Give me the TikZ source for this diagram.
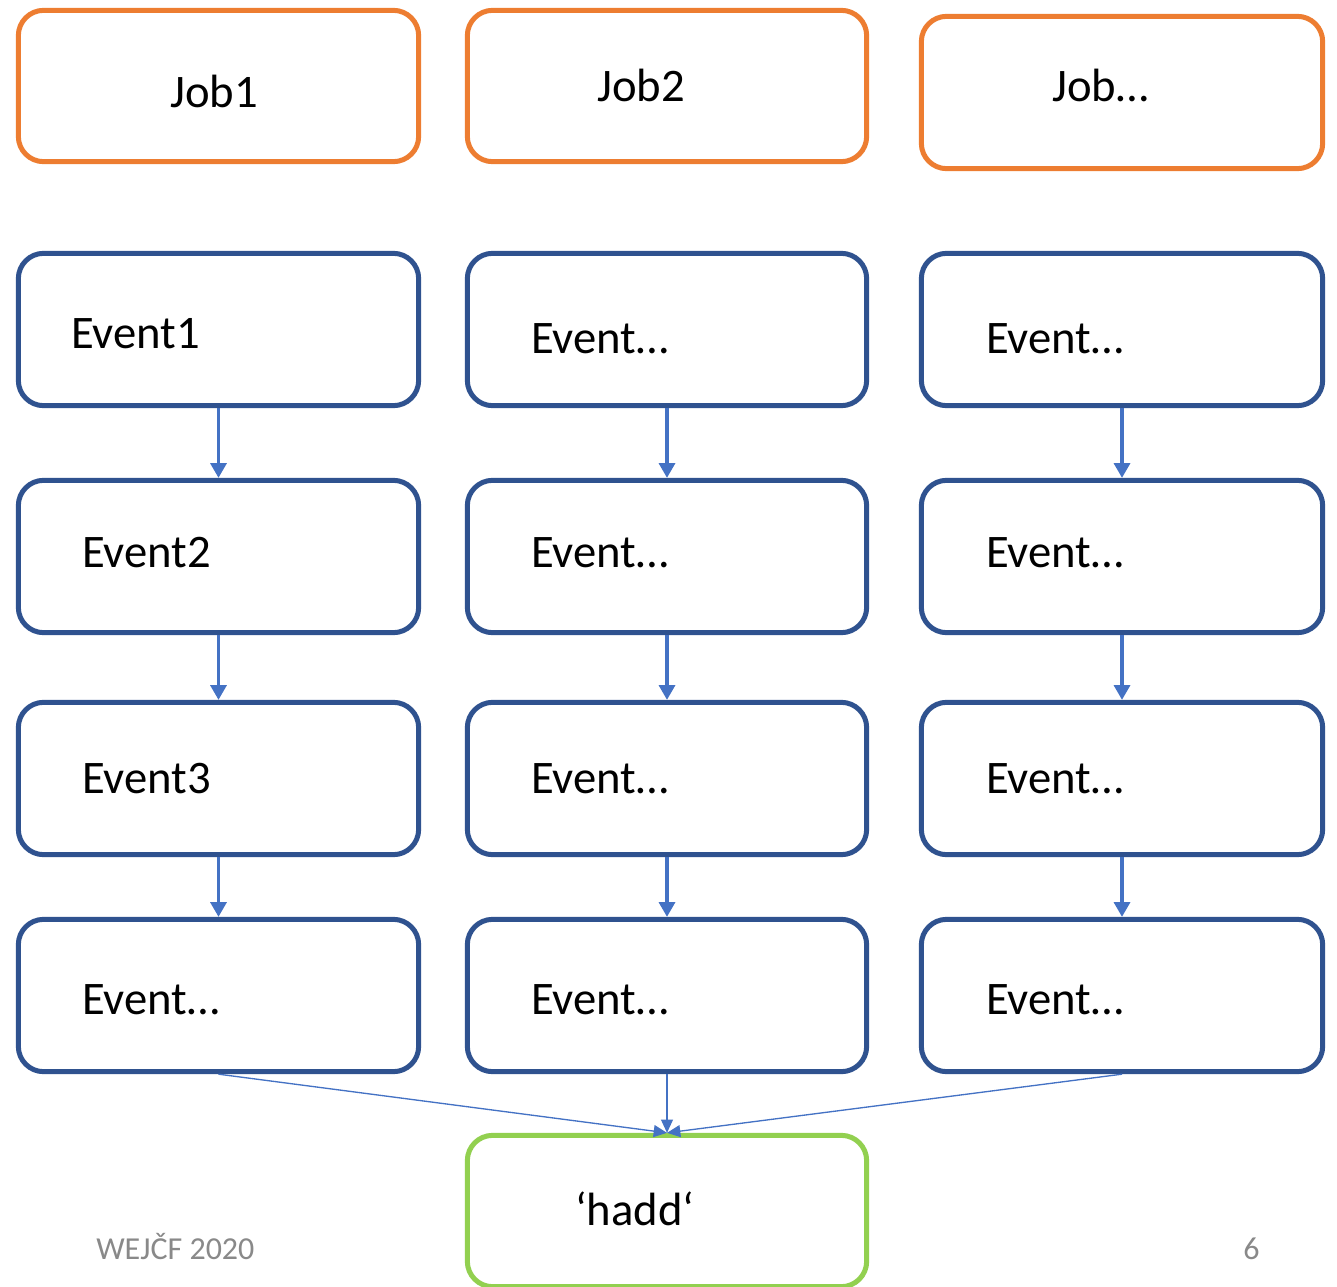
\documentclass[tikz,border=0pt]{standalone}
\usepackage{fontspec}
\setmainfont{Carlito}
\usetikzlibrary{arrows.meta}
\definecolor{joborange}{HTML}{ED7D31}
\definecolor{evblue}{HTML}{2F528F}
\definecolor{arblue}{HTML}{4472C4}
\definecolor{hgreen}{HTML}{92D050}
\definecolor{footgray}{HTML}{898989}
\begin{document}
\begin{tikzpicture}[x=0.75pt,y=-0.75pt,
  box/.style={draw, line width=3.75pt, rounded corners=19pt, fill=white},
  jobbox/.style={box, draw=joborange},
  evbox/.style={box, draw=evblue},
  haddbox/.style={box, draw=hgreen},
  lbl/.style={anchor=base west, inner sep=0pt, font=\fontsize{35}{42}\selectfont},
  foot/.style={anchor=base west, inner sep=0pt, text=footgray, font=\fontsize{24}{28}\selectfont},
  chain/.style={draw=arblue, line width=2.3pt, -{Triangle[width=12pt,length=11pt]}},
  merge/.style={draw=arblue, line width=1pt, -{Triangle[width=9pt,length=10pt]}}]
\useasboundingbox (0,0) rectangle (1337,1287);
\clip (0,0) rectangle (1337,1287);
\newcommand{\mybox}[6]{\node[#1, minimum width=#4*0.75pt-2pt, minimum height=#5*0.75pt-2pt, inner sep=0pt] (#6) at (#2,#3) {};}
% jobs
\mybox{jobbox}{218.5}{86}{403}{154}{j1}
\mybox{jobbox}{667}{86}{402}{154}{j2}
\mybox{jobbox}{1122}{92.5}{404}{155}{j3}
% events
\mybox{evbox}{218.5}{329.5}{403}{155}{e11}
\mybox{evbox}{667}{329.5}{402}{155}{e21}
\mybox{evbox}{1122}{329.5}{404}{155}{e31}
\mybox{evbox}{218.5}{556.5}{403}{155}{e12}
\mybox{evbox}{667}{556.5}{402}{155}{e22}
\mybox{evbox}{1122}{556.5}{404}{155}{e32}
\mybox{evbox}{218.5}{778.5}{403}{155}{e13}
\mybox{evbox}{667}{778.5}{402}{155}{e23}
\mybox{evbox}{1122}{778.5}{404}{155}{e33}
\mybox{evbox}{218.5}{995.5}{403}{155}{e14}
\mybox{evbox}{667}{995.5}{402}{155}{e24}
\mybox{evbox}{1122}{995.5}{404}{155}{e34}
\mybox{haddbox}{667}{1211}{402}{154}{hadd}
% labels
\node[lbl] (tj1) at (170,108) {Job1};
\node[lbl] (tj2) at (597,102) {Job2};
\node[lbl] (tj3) at (1052,102) {Job…};
\node[lbl] (t11) at (71,349) {Event1};
\node[lbl] (t21) at (531,353) {Event…};
\node[lbl] (t31) at (986,353) {Event…};
\node[lbl] (t12) at (82,567) {Event2};
\node[lbl] (t22) at (531,567) {Event…};
\node[lbl] (t32) at (986,567) {Event…};
\node[lbl] (t13) at (82,793) {Event3};
\node[lbl] (t23) at (531,793) {Event…};
\node[lbl] (t33) at (986,793) {Event…};
\node[lbl] (t14) at (82,1014) {Event…};
\node[lbl] (t24) at (531,1014) {Event…};
\node[lbl] (t34) at (986,1014) {Event…};
\node[lbl] (th) at (575,1225) {‘hadd‘};
\node[foot] (f1) at (96,1259) {WEJČF 2020};
\node[foot] (f2) at (1243,1259) {6};
% chain arrows
\foreach \c in {1,2,3}{
  \draw[chain] (e\c1.south) -- (e\c2.north);
  \draw[chain] (e\c2.south) -- (e\c3.north);
  \draw[chain] (e\c3.south) -- (e\c4.north);
}
% merge arrows
\draw[merge] (e14.south) -- (hadd.north);
\draw[merge] (e24.south) -- (hadd.north);
\draw[merge] (e34.south) -- (hadd.north);
\end{tikzpicture}
\end{document}
